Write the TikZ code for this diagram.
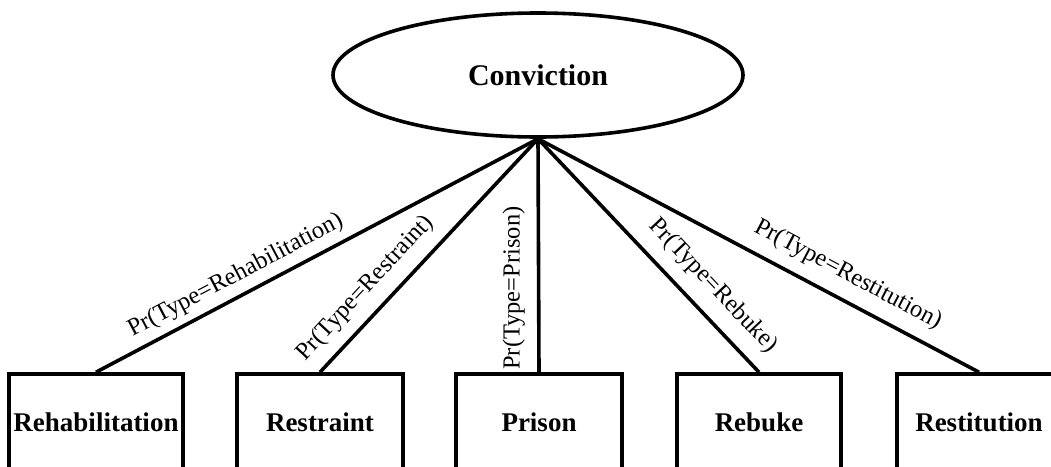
\documentclass[tikz,border=0pt]{standalone}
\usepackage{fontspec}
\setmainfont{Liberation Serif}
\usetikzlibrary{shapes.geometric}
\begin{document}
\begin{tikzpicture}[x=1pt,y=-1pt,line width=3.6pt,
  boxnode/.style={draw,rectangle,minimum height=96pt,inner sep=0pt,font=\fontsize{27}{30}\selectfont\bfseries},
  labelfont/.style={font=\fontsize{24.5}{28}\selectfont},
  elabel/.style={sloped,above,labelfont}]
\useasboundingbox (0,0) rectangle (1051,466);
\node[draw,ellipse,minimum width=410pt,minimum height=124pt,inner sep=0pt,font=\fontsize{30}{34}\selectfont\bfseries] (conv) at (538,75) {Conviction};
\node[boxnode,minimum width=174pt] (rehab) at (96,422) {Rehabilitation};
\node[boxnode,minimum width=166pt] (restr) at (320,422) {Restraint};
\node[boxnode,minimum width=166pt] (prison) at (539,422) {Prison};
\node[boxnode,minimum width=164pt] (rebuke) at (759,422) {Rebuke};
\node[boxnode,minimum width=164pt] (restit) at (979,422) {Restitution};
\draw (rehab.north) -- node[elabel,pos=0.337,inner sep=7pt] {Pr(Type=Rehabilitation)} (conv.south);
\draw (restr.north) -- node[elabel,pos=0.29,inner sep=11pt] {Pr(Type=Restraint)} (conv.south);
\draw (prison.north) -- node[labelfont,pos=0.36,rotate=90,anchor=south,inner sep=12pt] {Pr(Type=Prison)} (conv.south);
\draw (conv.south) -- node[elabel,pos=0.707,inner sep=13pt] {Pr(Type=Rebuke)} (rebuke.north);
\draw (conv.south) -- node[elabel,pos=0.677,inner sep=12pt] {Pr(Type=Restitution)} (restit.north);
\end{tikzpicture}
\end{document}
